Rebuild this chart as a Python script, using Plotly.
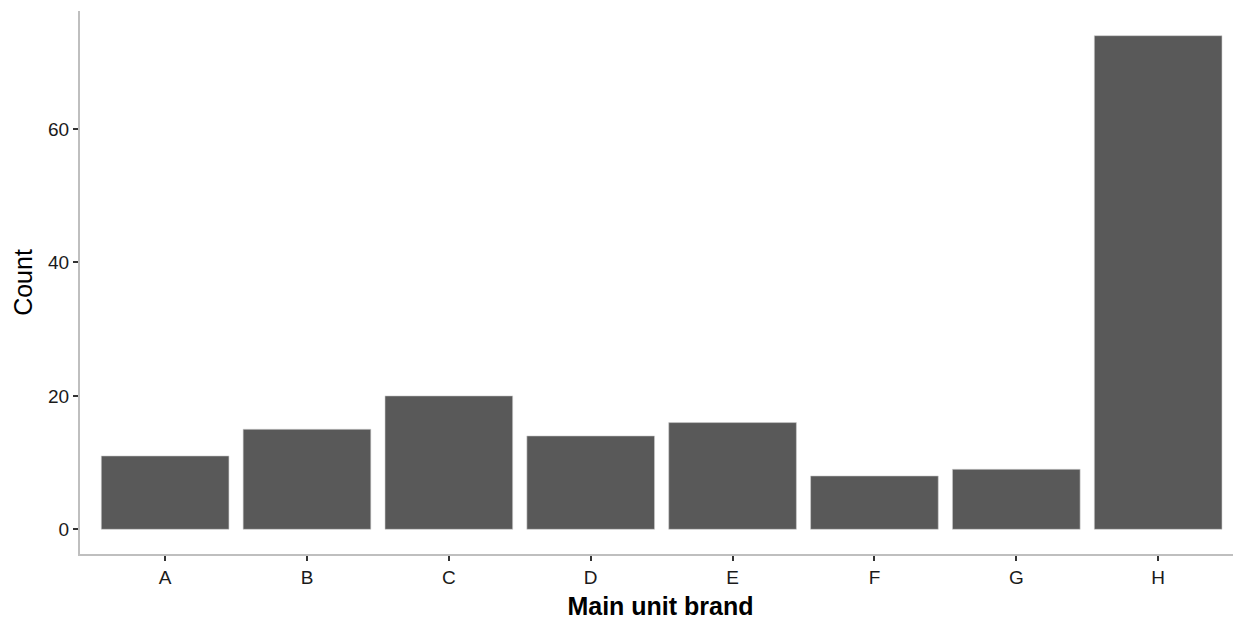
import plotly.graph_objects as go

brands = ["A", "B", "C", "D", "E", "F", "G", "H"]
counts = [11, 15, 20, 14, 16, 8, 9, 74]
y_ticks = [0, 20, 40, 60]

fig = go.Figure(go.Bar(
    x=brands, y=counts, width=0.9,
    marker=dict(color="#595959", line=dict(color="#d0d0d0", width=0.6)),
))

FONT = "Liberation Sans, Arial, sans-serif"
# page body has an 8px default margin, so the figure is offset by 8px
fig.update_layout(
    width=1233, height=612,
    margin=dict(l=72, r=0, t=3, b=66, pad=0),
    paper_bgcolor="white", plot_bgcolor="white",
    showlegend=False,
    font=dict(family=FONT, color="#000000"),
    bargap=0.1,
)
fig.update_xaxes(
    range=[-0.6, 7.584],
    showline=True, linecolor="#bfbfbf", linewidth=2,
    ticks="outside", ticklen=5, tickwidth=1.5, tickcolor="#333333",
    tickfont=dict(size=19, color="#1a1a1a", family=FONT),
    showgrid=False, zeroline=False,
    title=dict(text="<b>Main unit brand</b>", font=dict(size=25, color="#000000", family=FONT), standoff=11),
)
fig.update_yaxes(
    range=[-3.7, 77.7],
    tickvals=y_ticks,
    showline=True, linecolor="#bfbfbf", linewidth=2,
    ticks="outside", ticklen=5, tickwidth=1.5, tickcolor="#333333",
    tickfont=dict(size=19, color="#1a1a1a", family=FONT),
    showgrid=False, zeroline=False,
    title=dict(text="Count", font=dict(size=25, color="#000000", family=FONT), standoff=8),
)

fig.write_html("out.html")
